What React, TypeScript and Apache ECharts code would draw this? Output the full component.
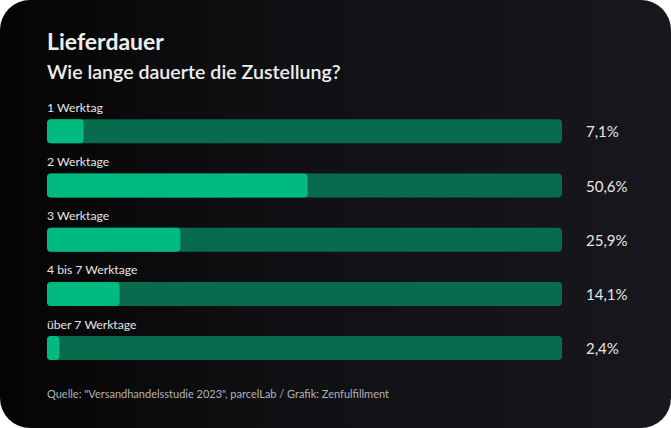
import React, { useEffect, useRef } from "react";
import * as echarts from "echarts";

const categories = ["1 Werktag", "2 Werktage", "3 Werktage", "4 bis 7 Werktage", "über 7 Werktage"];
const values = [7.1, 50.6, 25.9, 14.1, 2.4];
const valueLabels = ["7,1%", "50,6%", "25,9%", "14,1%", "2,4%"];
const fullScale = [100, 100, 100, 100, 100];

const FONT = "Lato";

export default function App() {
  const ref = useRef<HTMLDivElement>(null);

  useEffect(() => {
    document.body.style.margin = "0";
    document.body.style.background = "#ffffff";
    if (!ref.current) return;
    const chart = echarts.init(ref.current, undefined, { renderer: "svg" });
    chart.setOption({
      animation: false,
      backgroundColor: "transparent",
      textStyle: { fontFamily: FONT },
      title: [
        {
          text: "Lieferdauer",
          left: 47,
          top: 29,
          padding: 0,
          textStyle: { color: "#eeeeee", fontSize: 23, fontWeight: "bold", fontFamily: FONT },
        },
        {
          text: "Wie lange dauerte die Zustellung?",
          left: 47,
          top: 61,
          padding: 0,
          textStyle: { color: "#eeeeee", fontSize: 19.6, fontWeight: 600, fontFamily: FONT },
        },
        {
          text: "Quelle: \"Versandhandelsstudie 2023\", parcelLab / Grafik: Zenfulfillment",
          left: 47,
          top: 388,
          padding: 0,
          textStyle: { color: "#b3b3b3", fontSize: 11, fontWeight: "normal", fontFamily: FONT },
        },
      ],
      grid: { left: 47, right: 109, top: 104.2, bottom: 52.8, containLabel: false },
      xAxis: { type: "value", min: 0, max: 100, show: false },
      yAxis: {
        type: "category",
        data: categories,
        inverse: true,
        show: false,
      },
      series: [
        {
          type: "bar",
          data: fullScale,
          barWidth: 24,
          itemStyle: { color: "#086b4d", borderRadius: 4 },
          label: {
            show: true,
            position: "right",
            distance: 24,
            color: "#e6e6e6",
            fontSize: 15,
            fontFamily: FONT,
            formatter: (p: any) => valueLabels[p.dataIndex],
          },
          silent: true,
        },
        {
          type: "bar",
          data: values,
          barWidth: 24,
          barGap: "-100%",
          itemStyle: { color: "#00ba80", borderRadius: 4 },
          label: {
            show: true,
            position: [0, -18],
            color: "#e6e6e6",
            fontSize: 12.2,
            fontFamily: FONT,
            formatter: (p: any) => categories[p.dataIndex],
          },
          silent: true,
        },
      ],
    });
    return () => chart.dispose();
  }, []);

  return (
    <div
      style={{
        width: 671,
        height: 428,
        borderRadius: 30,
        overflow: "hidden",
        background: "linear-gradient(90deg, #040404 0%, #0f0f12 35%, #18171d 100%)",
      }}
    >
      <div ref={ref} style={{ width: 671, height: 428 }} />
    </div>
  );
}
